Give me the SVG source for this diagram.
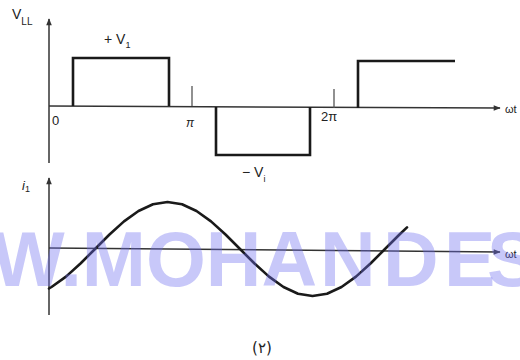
<svg xmlns="http://www.w3.org/2000/svg" width="520" height="360" viewBox="0 0 520 360">
<defs>
<style>
.axis{fill:none;stroke:#333;stroke-width:1.5}
.wave{fill:none;stroke:#1a1a1a;stroke-width:2.6;stroke-linejoin:miter}
.sine{fill:none;stroke:#1a1a1a;stroke-width:2.6;stroke-linejoin:round;stroke-linecap:round}
.tick{fill:none;stroke:#555;stroke-width:1.3}
.lbl{font-family:"Liberation Sans",Arial,sans-serif;fill:#222}
.wm{font-family:"Liberation Sans",Arial,sans-serif;font-weight:bold;fill:rgb(110,110,240);fill-opacity:0.38}
</style>
<marker id="ah" viewBox="0 0 10 10" refX="9" refY="5" markerWidth="8" markerHeight="7" orient="auto" markerUnits="userSpaceOnUse">
<path d="M0,1 L10,5 L0,9 z" fill="#333"/>
</marker>
</defs>
<rect width="520" height="360" fill="#fff"/>

<g id="top-plot">
<g id="top-axes">
<line class="axis" x1="49" y1="163" x2="49" y2="19" marker-end="url(#ah)"/>
<line class="axis" x1="49" y1="106" x2="500" y2="108" marker-end="url(#ah)"/>
<line class="tick" x1="192" y1="86" x2="192" y2="106"/>
<line class="tick" x1="334" y1="89" x2="334" y2="108"/>
</g>
<g id="square-wave">
<polyline class="wave" points="73,106 73,58 169,58 169,106"/>
<polyline class="wave" points="216,107 216,155 310,155 310,107"/>
<polyline class="wave" points="358,108 358,61 455,61"/>
</g>
<g id="top-labels">
<text class="lbl" x="12" y="19" font-size="14">V<tspan font-size="10" dy="6">LL</tspan></text>
<text class="lbl" x="104" y="44" font-size="14">+ V<tspan font-size="9" dy="4">1</tspan></text>
<text class="lbl" x="242" y="177" font-size="14">− V<tspan font-size="9" dy="5">i</tspan></text>
<text class="lbl" x="52" y="125" font-size="13">0</text>
<text class="lbl" x="186" y="127" font-size="12" font-style="italic">π</text>
<text class="lbl" x="321" y="121" font-size="13">2π</text>
<text class="lbl" x="505" y="113" font-size="11">ωt</text>
</g>
</g>

<g id="bottom-plot">
<g id="bottom-axes">
<line class="axis" x1="49" y1="315" x2="49" y2="178" marker-end="url(#ah)"/>
<line class="axis" x1="49" y1="248" x2="500" y2="252" marker-end="url(#ah)"/>
</g>
<polyline id="sine-wave" class="sine" points="49,288.5 51.5,287 66,276.6 80.5,263.5 95,249 109.5,234.5 124,221.4 138.5,211 153,204.3 167.5,202 182,204.3 196.5,211 211,221.4 225.5,234.5 240,249 254.5,263.5 269,276.6 283.5,287 298,293.7 312.5,296 327,293.7 341.5,287 356,276.6 370.5,263.5 385,249 399.5,234.5 407,227.4"/>
<g id="bottom-labels">
<text class="lbl" x="22" y="190" font-size="13" font-style="italic">i<tspan font-size="9" dy="2" font-style="normal">1</tspan></text>
<text class="lbl" x="505" y="258" font-size="11">ωt</text>
</g>
</g>

<text id="caption" x="262" y="353" font-size="15" text-anchor="middle" font-family="'DejaVu Sans',sans-serif" fill="#222">(٢)</text>

<text id="watermark" class="wm" x="-8" y="286" font-size="77">W.MOHA<tspan x="320">N</tspan><tspan x="383">D</tspan><tspan x="444">E</tspan><tspan x="487">S</tspan></text>
</svg>
